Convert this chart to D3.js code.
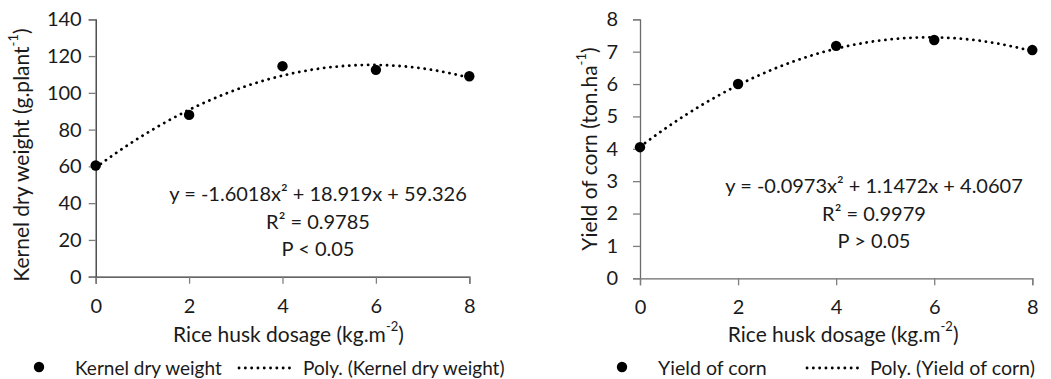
<!DOCTYPE html>
<html><head><meta charset="utf-8">
<script src="https://cdn.jsdelivr.net/npm/d3@7"></script>
<style>
body{margin:0;background:#fff;}
text{font-family:Lato, "Open Sans", sans-serif;fill:#1a1a1a;}
</style></head>
<body><svg id="c" width="1051" height="379"></svg>
<script>
const dosage = [0, 2, 4, 6, 8];
const kernelWeight = [60.5, 88, 114.5, 112.5, 109];
const cornYield = [4.05, 6.0, 7.18, 7.36, 7.05];
const kernelTicks = [0, 20, 40, 60, 80, 100, 120, 140];
const yieldTicks = [0, 1, 2, 3, 4, 5, 6, 7, 8];
const xTicks = [0, 2, 4, 6, 8];
const kernelCoef = [-1.6018, 18.919, 59.326];
const yieldCoef = [-0.0973, 1.1472, 4.0607];
const kernelEq = ["y = -1.6018x", "² + 18.919x + 59.326", "R", "² = 0.9785", "P < 0.05"];
const yieldEq = ["y = -0.0973x", "² + 1.1472x + 4.0607", "R", "² = 0.9979", "P > 0.05"];

const svg = d3.select("#c");
const FS_TICK = 20, FS_TITLE = 21, FS_EQ = 20;

function panel(o){
  const g = svg.append("g");
  const x = d3.scaleLinear().domain([0,8]).range([o.x0, o.x1]);
  const y = d3.scaleLinear().domain([0, o.ymax]).range([o.y0, o.y1]);
  const ya = g.append("g").attr("transform",`translate(${o.x0},0)`)
    .call(d3.axisLeft(y).tickValues(o.yticks).tickSize(7).tickPadding(o.ypad).tickFormat(d3.format("d")));
  ya.select(".domain").attr("stroke",o.axisColor).attr("stroke-width",1.3);
  ya.selectAll(".tick line").attr("stroke","#7f7f7f").attr("stroke-width",1.3);
  ya.selectAll(".tick text").attr("font-size",FS_TICK).attr("font-family","Lato").attr("fill","#1a1a1a");
  const xa = g.append("g").attr("transform",`translate(0,${o.y0})`)
    .call(d3.axisBottom(x).tickValues(xTicks).tickSize(7).tickPadding(15).tickFormat(d3.format("d")));
  xa.select(".domain").attr("stroke",o.axisColor).attr("stroke-width",1.3);
  xa.selectAll(".tick line").attr("stroke","#7f7f7f").attr("stroke-width",1.3);
  xa.selectAll(".tick text").attr("font-size",FS_TICK).attr("font-family","Lato").attr("fill","#1a1a1a");
  // trendline from the displayed polynomial
  const pts = d3.range(0, 8.0001, 0.1).map(v => [v, o.coef[0]*v*v + o.coef[1]*v + o.coef[2]]);
  g.append("path").datum(pts)
    .attr("d", d3.line().x(d=>x(d[0])).y(d=>y(d[1])).curve(d3.curveMonotoneX))
    .attr("fill","none").attr("stroke","#000").attr("stroke-width",2.8)
    .attr("stroke-linecap","round").attr("stroke-dasharray","0.1,6.2");
  g.selectAll("circle.pt").data(dosage).join("circle").attr("class","pt")
    .attr("cx", d=>x(d)).attr("cy",(d,i)=>y(o.vals[i])).attr("r",5.2).attr("fill","#000");
  // y title
  const yt = g.append("text").attr("transform",`translate(${o.ytx},${o.yty}) rotate(-90)`)
    .attr("text-anchor","middle").attr("dominant-baseline","central").attr("font-size",FS_TITLE);
  yt.append("tspan").text(o.ytitle);
  yt.append("tspan").attr("font-size",FS_TITLE*0.62).attr("dy",-7).text("-1");
  yt.append("tspan").attr("dy",7).text(")");
  // x title
  const xt = g.append("text").attr("x",(o.x0+o.x1)/2 + o.xtOff).attr("y",333)
    .attr("text-anchor","middle").attr("dominant-baseline","central").attr("font-size",FS_TITLE);
  xt.append("tspan").text("Rice husk dosage (kg.m");
  xt.append("tspan").attr("font-size",FS_TITLE*0.62).attr("dy",-7).text("-2");
  xt.append("tspan").attr("dy",7).text(")");
  // equation
  const e = o.eq;
  const eqG = g.append("g").attr("font-size",FS_EQ);
  eqG.append("text").attr("x",o.eqx).attr("y",o.eqy).attr("text-anchor","middle").attr("dominant-baseline","central").text(e[0]+e[1]);
  eqG.append("text").attr("x",o.eqx).attr("y",o.eqy+27.5).attr("text-anchor","middle").attr("dominant-baseline","central").text(e[2]+e[3]);
  eqG.append("text").attr("x",o.eqx).attr("y",o.eqy+55).attr("text-anchor","middle").attr("dominant-baseline","central").text(e[4]);
  // legend
  const lg = g.append("g");
  lg.append("circle").attr("cx",o.lg[0]).attr("cy",367).attr("r",5.2).attr("fill","#000");
  lg.append("text").attr("x",o.lg[1]).attr("y",367).attr("dominant-baseline","central").attr("font-size",o.legFs).text(o.name);
  lg.append("line").attr("x1",o.lg[2]).attr("x2",o.lg[3]).attr("y1",368).attr("y2",368)
    .attr("stroke","#000").attr("stroke-width",2.8).attr("stroke-linecap","round").attr("stroke-dasharray","0.1,6.2");
  lg.append("text").attr("x",o.lg[4]).attr("y",367).attr("dominant-baseline","central").attr("font-size",o.legFs).text("Poly. ("+o.name+")");
}

panel({x0:95.7,x1:469.3,y0:276.7,y1:19.3,ymax:140,yticks:kernelTicks,vals:kernelWeight,coef:kernelCoef,ypad:7,axisColor:"#333",
  ytitle:"Kernel dry weight (g.plant",ytx:20,yty:155,eq:kernelEq,eqx:318,eqy:193,name:"Kernel dry weight",xtOff:6,legFs:19,
  lg:[39,75,239,294,303]});
panel({x0:640,x1:1032.3,y0:278.3,y1:19.3,ymax:8,yticks:yieldTicks,vals:cornYield,coef:yieldCoef,ypad:15,axisColor:"#6b6b6b",
  ytitle:"Yield of corn (ton.ha",ytx:588,yty:149,eq:yieldEq,eqx:874,eqy:185,name:"Yield of corn",xtOff:7,legFs:19.6,
  lg:[622,658,807,861,870]});
</script></body></html>
